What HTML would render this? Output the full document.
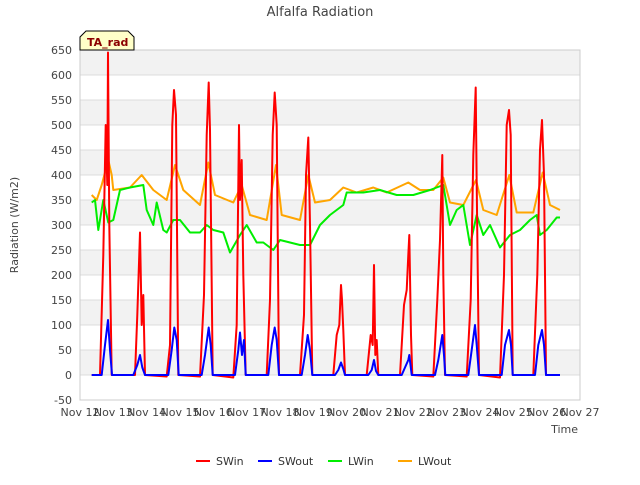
<!DOCTYPE html>
<html><head><meta charset="utf-8"><style>
body{margin:0;background:#fff;font-family:"Liberation Sans","DejaVu Sans",sans-serif;}
svg text{font-family:"DejaVu Sans","Liberation Sans",sans-serif;}
</style></head><body>
<svg id="c" width="640" height="480" viewBox="0 0 640 480" xmlns="http://www.w3.org/2000/svg">
<text x="320" y="16" text-anchor="middle" font-size="13" fill="#444">Alfalfa Radiation</text>
<g id="grid"></g><g id="series"></g><g id="axes"></g>
<text x="18" y="225" transform="rotate(-90 18 225)" text-anchor="middle" font-size="11" fill="#444">Radiation (W/m2)</text>
<text x="578" y="433" text-anchor="end" font-size="11" fill="#444">Time</text>
<g>
<path d="M80,50 L80,37 L86,31 L128,31 L134,37 L134,50 Z" fill="#ffffc8" stroke="#000" stroke-width="1"/>
<text x="87" y="46" font-size="11" font-weight="bold" fill="#8b0000">TA_rad</text></g>
<g id="legend"></g>
</svg>
<script>
const yTicks=[-50,0,50,100,150,200,250,300,350,400,450,500,550,600,650];
const xTickLabels=["Nov 12","Nov 13","Nov 14","Nov 15","Nov 16","Nov 17","Nov 18","Nov 19","Nov 20","Nov 21","Nov 22","Nov 23","Nov 24","Nov 25","Nov 26","Nov 27"];
const swinT=[0.35,0.6,0.7,0.77,0.82,0.84,0.88,0.95,1.5,1.65,1.72,1.8,1.85,1.9,1.95,2.6,2.7,2.77,2.82,2.88,2.95,3.6,3.72,3.8,3.86,3.9,3.98,4.6,4.7,4.77,4.8,4.85,4.9,4.97,5.6,5.7,5.78,5.84,5.9,5.97,6.6,6.72,6.78,6.85,6.9,6.97,7.6,7.7,7.78,7.83,7.86,7.9,7.95,8.6,8.72,8.78,8.82,8.86,8.9,8.95,9.6,9.72,9.8,9.85,9.88,9.93,9.97,10.6,10.72,10.8,10.87,10.9,10.95,11.6,11.72,11.8,11.87,11.9,11.97,12.6,12.72,12.8,12.87,12.92,12.98,13.6,13.72,13.8,13.86,13.92,13.98,14.4];
const swinV=[0,0,240,500,380,645,300,0,0,0,120,285,100,160,0,-3,60,500,570,520,0,-3,160,480,585,490,0,-5,100,500,350,430,200,0,0,150,480,565,500,0,0,120,400,475,300,0,0,80,100,180,150,90,0,0,80,60,220,40,70,0,0,140,170,240,280,80,0,-3,150,270,440,200,0,-3,150,440,575,380,0,-5,200,500,530,480,0,0,200,450,510,400,0,0];
const swoutT=[0.35,0.65,0.75,0.84,0.9,0.96,1.6,1.72,1.8,1.87,1.95,2.65,2.75,2.83,2.9,2.96,3.65,3.75,3.86,3.92,3.98,4.65,4.75,4.8,4.86,4.92,4.97,5.65,5.75,5.84,5.9,5.97,6.65,6.75,6.83,6.9,6.97,7.65,7.75,7.83,7.9,7.95,8.65,8.75,8.82,8.88,8.95,9.65,9.75,9.85,9.88,9.95,10.65,10.75,10.87,10.92,10.96,11.65,11.75,11.85,11.9,11.97,12.65,12.75,12.87,12.93,12.98,13.65,13.75,13.86,13.92,13.98,14.4];
const swoutV=[0,0,60,110,50,0,0,20,40,15,0,0,50,95,70,0,0,40,95,60,0,0,50,85,40,70,0,0,60,95,70,0,0,40,80,50,0,0,10,25,12,0,0,10,30,8,0,0,15,30,40,0,0,30,80,40,0,0,50,100,60,0,0,60,90,60,0,0,60,90,60,0,0];
const lwinT=[0.35,0.45,0.55,0.7,0.85,1.0,1.2,1.5,1.9,2.0,2.2,2.3,2.5,2.6,2.8,3.0,3.3,3.6,3.8,4.0,4.3,4.5,4.8,5.0,5.3,5.5,5.8,6.0,6.3,6.6,6.9,7.2,7.5,7.9,8.0,8.5,9.0,9.5,10.0,10.5,10.9,11.1,11.3,11.5,11.7,11.9,12.1,12.3,12.6,12.9,13.2,13.5,13.7,13.8,14.0,14.3,14.4];
const lwinV=[345,350,290,350,305,310,370,375,380,330,300,345,290,285,310,310,285,285,300,290,285,245,280,300,265,265,250,270,265,260,260,300,320,340,365,365,370,360,360,370,380,300,330,340,260,320,280,300,255,280,290,310,320,280,290,315,315];
const lwoutT=[0.35,0.5,0.65,0.85,0.95,1.0,1.5,1.85,2.2,2.6,2.85,3.1,3.6,3.85,4.05,4.6,4.85,5.1,5.6,5.88,6.05,6.6,6.85,7.05,7.5,7.9,8.3,8.8,9.2,9.85,10.2,10.6,10.9,11.1,11.5,11.88,12.1,12.5,12.88,13.1,13.6,13.88,14.1,14.4];
const lwoutV=[360,350,380,430,400,370,375,400,370,350,420,370,340,425,360,345,380,320,310,420,320,310,400,345,350,375,365,375,365,385,370,370,395,345,340,390,330,320,400,325,325,405,340,330];
const NS="http://www.w3.org/2000/svg";
const L=80,R=580,T=50,B=400;
const x=t=>L+t*(R-L)/15;
const y=v=>T+(650-v)*(B-T)/700;
function mk(tag,at,parent){const e=document.createElementNS(NS,tag);for(const k in at)e.setAttribute(k,at[k]);parent.appendChild(e);return e;}
const grid=document.getElementById('grid'),axes=document.getElementById('axes'),ser=document.getElementById('series'),leg=document.getElementById('legend');
mk('rect',{x:L,y:T,width:R-L,height:B-T,fill:'#fff'},grid);
for(let i=0;i<yTicks.length-1;i++){if(i%2===1){const r=mk('rect',{x:L,y:y(yTicks[i+1]),width:R-L,height:y(yTicks[i])-y(yTicks[i+1]),fill:'#f2f2f2'},grid);

}}
yTicks.forEach(v=>{const l=mk('line',{x1:L,x2:R,y1:y(v),y2:y(v),stroke:'#dcdcdc','stroke-width':1},grid);


const t=mk('text',{x:L-8,y:y(v)+4,'text-anchor':'end','font-size':11,fill:'#444'},axes);t.textContent=v;

});
xTickLabels.forEach((s,i)=>{const t=mk('text',{x:x(i),y:416,'text-anchor':'middle','font-size':11,fill:'#444'},axes);t.textContent=s;

});
mk('rect',{x:L,y:T,width:R-L,height:B-T,fill:'none',stroke:'#ccc'},axes);
function line(ts,vs,col,name){const d=ts.map((t,i)=>(i?'L':'M')+x(t).toFixed(1)+','+y(vs[i]).toFixed(1)).join('');
const p=mk('path',{d:d,fill:'none',stroke:col,'stroke-width':2,'stroke-linejoin':'round'},ser);

}
line(lwoutT,lwoutV,'#ffa500','series-lwout');
line(lwinT,lwinV,'#00ee00','series-lwin');
line(swinT,swinV,'#ff0000','series-swin');
line(swoutT,swoutV,'#0000ff','series-swout');
const legItems=[['SWin','#ff0000',196],['SWout','#0000ff',258],['LWin','#00ee00',328],['LWout','#ffa500',398]];
legItems.forEach(([n,c,lx])=>{const g=mk('g',{},leg);


mk('line',{x1:lx,x2:lx+14,y1:461,y2:461,stroke:c,'stroke-width':2},g);
const t=mk('text',{x:lx+20,y:465,'font-size':11,fill:'#333'},g);t.textContent=n;});
</script>
</body></html>
